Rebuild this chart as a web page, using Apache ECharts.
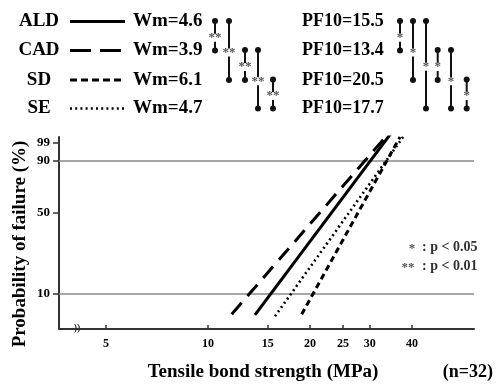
<!DOCTYPE html>
<html>
<head>
<meta charset="utf-8">
<script src="https://cdn.jsdelivr.net/npm/echarts@6/dist/echarts.min.js"></script>
<style>
html,body{margin:0;padding:0;background:#fff;}
#chart{width:497px;height:384px;}
</style>
</head>
<body>
<div id="chart"></div>
<script>
// ---- Data ----
var groups = ['ALD', 'CAD', 'SD', 'SE'];
var weibullModulus = ['4.6', '3.9', '6.1', '4.7'];
var pf10 = ['15.5', '13.4', '20.5', '17.7'];
// Fitted line endpoints: strength (MPa) and probability of failure (%)
var lineStrength = {
  ALD: [13.76, 34.8],
  CAD: [11.75, 34.4],
  SD:  [18.90, 36.85],
  SE:  [15.76, 38.4]
};
var lineProb = {
  ALD: [6.3, 98.84],
  CAD: [6.4, 98.9],
  SD:  [6.4, 98.2],
  SE:  [6.1, 98.8]
};
var xTickValues = [5, 10, 15, 20, 25, 30, 40];
// tick positions (as drawn in the reference) and their labels
var yTickPositions = [10, 50, 90, 97];
var yTickLabels = ['10', '50', '90', '99'];
var refLines = [10, 90];
// significance brackets: [rowFrom, rowTo, mark]
var wmPairs = [[0,1,'**'],[0,2,'**'],[1,2,'**'],[1,3,'**'],[2,3,'**']];
var pfPairs = [[0,1,'*'],[0,2,'*'],[0,3,'*'],[1,2,'*'],[1,3,'*'],[2,3,'*']];

// ---- scale transforms ----
function W(p){ return Math.log(-Math.log(1 - p/100)); }
function L(v){ return Math.log10(v); }

var FONT = '"Liberation Serif", "Times New Roman", serif';
var dashes = {ALD: 'solid', CAD: [15, 9], SD: [6, 4], SE: [2, 3.2]};
var legendDashes = {ALD: null, CAD: [21, 9], SD: [7, 4], SE: [2, 3.2]};
var widths = {ALD: 3, CAD: 3, SD: 3, SE: 2.6};

var chart = echarts.init(document.getElementById('chart'), null, {renderer: 'canvas'});

var series = groups.map(function(g, i){
  var s = {
    name: g, type: 'line', showSymbol: false, symbol: 'none', silent: true,
    data: [[L(lineStrength[g][0]), W(lineProb[g][0])], [L(lineStrength[g][1]), W(lineProb[g][1])]],
    lineStyle: {color: '#000', width: widths[g], type: dashes[g], cap: 'butt'},
    z: 5
  };
  if (i === 0) {
    s.markLine = {
      silent: true, symbol: 'none', label: {show: false},
      lineStyle: {color: '#8a8a8a', width: 1.6, type: 'solid'},
      data: refLines.map(function(p){ return {yAxis: W(p)}; }),
      z: 1
    };
  }
  return s;
});

// ---- legend-like header & brackets (graphics) ----
var rowY = [21.5, 50.5, 80, 108.5];
var graphics = [];
groups.forEach(function(g, i){
  graphics.push({type:'text', x: 39, y: rowY[i], style:{text: g, font: 'bold 19px ' + FONT, fill:'#000', align:'center', verticalAlign:'middle'}});
  graphics.push({type:'line', shape:{x1:70, y1:rowY[i], x2:125, y2:rowY[i]},
    style:{stroke:'#000', lineWidth: widths[g], lineDash: legendDashes[g]}});
  graphics.push({type:'text', x: 133, y: rowY[i], style:{text: 'Wm=' + weibullModulus[i], font: 'bold 19px ' + FONT, fill:'#000', align:'left', verticalAlign:'middle'}});
  graphics.push({type:'text', x: 302, y: rowY[i], style:{text: 'PF10=' + pf10[i], font: 'bold 18px ' + FONT, fill:'#000', align:'left', verticalAlign:'middle'}});
});
function addBrackets(pairs, xs){
  pairs.forEach(function(p, k){
    var x = xs[k], y1 = rowY[p[0]] - 0.5, y2 = rowY[p[1]];
    graphics.push({type:'line', shape:{x1:x, y1:y1, x2:x, y2:y2}, style:{stroke:'#111', lineWidth:2}});
    graphics.push({type:'circle', shape:{cx:x, cy:y1, r:3}, style:{fill:'#111'}});
    graphics.push({type:'circle', shape:{cx:x, cy:y2, r:3}, style:{fill:'#111'}});
    graphics.push({type:'text', x:x, y:(y1+y2)/2 + 2, style:{text:p[2], font:'bold 13px ' + FONT, fill:'#555', align:'center', verticalAlign:'middle', backgroundColor:'#fff', padding:[-2,0,-3,0]}});
  });
}
addBrackets(wmPairs, [215, 229, 245, 258, 273]);
addBrackets(pfPairs, [400, 413, 426, 437.7, 451, 466.7]);

// axis titles and notes
graphics.push({type:'text', x: 20, y: 244, rotation: Math.PI/2,
  style:{text:'Probability of failure (%)', font:'bold 19px ' + FONT, fill:'#000', align:'center', verticalAlign:'middle'}});
graphics.push({type:'text', x: 263, y: 372,
  style:{text:'Tensile bond strength (MPa)', font:'bold 19px ' + FONT, fill:'#000', align:'center', verticalAlign:'middle'}});
graphics.push({type:'text', x: 493, y: 372,
  style:{text:'(n=32)', font:'bold 18px ' + FONT, fill:'#000', align:'right', verticalAlign:'middle'}});
graphics.push({type:'text', x: 412, y: 249,
  style:{text:'*', font:'bold 13px ' + FONT, fill:'#555', align:'center', verticalAlign:'middle'}});
graphics.push({type:'text', x: 422, y: 247,
  style:{text:': p < 0.05', font:'bold 14px ' + FONT, fill:'#333', align:'left', verticalAlign:'middle'}});
graphics.push({type:'text', x: 408, y: 268,
  style:{text:'**', font:'bold 13px ' + FONT, fill:'#555', align:'center', verticalAlign:'middle'}});
graphics.push({type:'text', x: 422, y: 266,
  style:{text:': p < 0.01', font:'bold 14px ' + FONT, fill:'#333', align:'left', verticalAlign:'middle'}});
// axis break mark
graphics.push({type:'text', x: 77, y: 328,
  style:{text:'))', font:'bold 10px ' + FONT, fill:'#333', align:'center', verticalAlign:'middle'}});

var option = {
  animation: false,
  backgroundColor: '#fff',
  grid: {left: 59, right: 23, top: 137, bottom: 55},
  xAxis: {
    type: 'value', min: L(3.635), max: L(60.9),
    axisLine: {show: true, onZero: false, lineStyle: {color: '#333', width: 2}},
    axisTick: {show: true, inside: true, length: 4, customValues: xTickValues.map(L), lineStyle: {color: '#333', width: 1.5}},
    axisLabel: {show: true, customValues: xTickValues.map(L), margin: 9,
      formatter: function(v){ return String(Math.round(Math.pow(10, v))); },
      fontFamily: FONT, fontWeight: 'bold', fontSize: 12, color: '#000'},
    splitLine: {show: false}
  },
  yAxis: {
    type: 'value', min: W(4.58), max: W(98.2),
    axisLine: {show: true, onZero: false, lineStyle: {color: '#333', width: 2}},
    axisTick: {show: true, inside: false, length: 6, customValues: yTickPositions.map(W), lineStyle: {color: '#333', width: 1.5}},
    axisLabel: {show: true, customValues: yTickPositions.map(W), margin: 9,
      formatter: function(v){
        var best = 0, d = Infinity;
        yTickPositions.forEach(function(p, i){ var dd = Math.abs(W(p) - v); if (dd < d) { d = dd; best = i; } });
        return yTickLabels[best];
      },
      fontFamily: FONT, fontWeight: 'bold', fontSize: 13, color: '#000'},
    splitLine: {show: false}
  },
  series: series,
  graphic: graphics
};
chart.setOption(option);
</script>
</body>
</html>
